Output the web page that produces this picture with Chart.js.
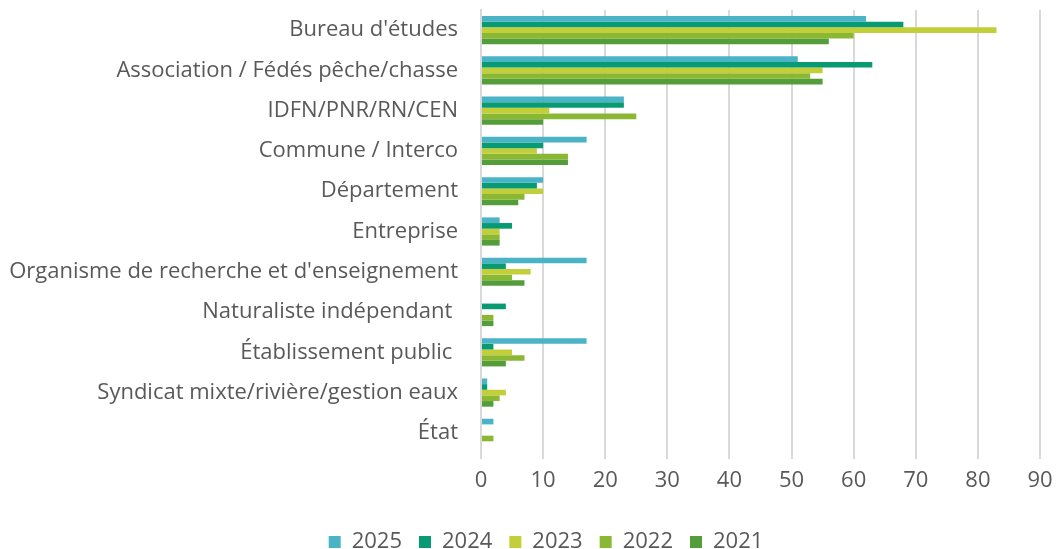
<!DOCTYPE html>
<html>
<head>
<meta charset="utf-8">
<script src="https://cdn.jsdelivr.net/npm/chart.js@4"></script>
<style>
  html, body { margin: 0; padding: 0; background: #fff; }
  #wrap { width: 1060px; height: 549px; }
</style>
</head>
<body>
<div id="wrap"><canvas id="orgChart"></canvas></div>
<script>
// Categories (y axis)
const categories = [
  "Bureau d'études",
  "Association / Fédés pêche/chasse",
  "IDFN/PNR/RN/CEN",
  "Commune / Interco",
  "Département",
  "Entreprise",
  "Organisme de recherche et d'enseignement",
  "Naturaliste indépendant ",
  "Établissement public ",
  "Syndicat mixte/rivière/gestion eaux",
  "État"
];

// Series values
const years = ["2025", "2024", "2023", "2022", "2021"];
const values2025 = [62, 51, 23, 17, 10, 3, 17, 0, 17, 1, 2];
const values2024 = [68, 63, 23, 10, 9, 5, 4, 4, 2, 1, 0];
const values2023 = [83, 55, 11, 9, 10, 3, 8, 0, 5, 4, 0];
const values2022 = [60, 53, 25, 14, 7, 3, 5, 2, 7, 3, 2];
const values2021 = [56, 55, 10, 14, 6, 3, 7, 2, 4, 2, 0];

const xTicks = [0, 10, 20, 30, 40, 50, 60, 70, 80, 90];

const colors = ["#4BB3C6", "#079A73", "#C3CF38", "#8BB834", "#539E3A"];
const allValues = [values2025, values2024, values2023, values2022, values2021];

const textColor = "#595959";
const fontFamily = "'Open Sans', sans-serif";
const fontSize = 22;

function createChart() {
  const ctx = document.getElementById('orgChart').getContext('2d');
  new Chart(ctx, {
    type: 'bar',
    data: {
      labels: categories,
      datasets: years.map((y, i) => ({
        label: y,
        data: allValues[i],
        backgroundColor: colors[i],
        borderWidth: 0,
        categoryPercentage: 0.7,
        barPercentage: 1.0
      }))
    },
    options: {
      indexAxis: 'y',
      responsive: true,
      maintainAspectRatio: false,
      animation: false,
      // negative right padding only recentres the bottom legend
      layout: { padding: { top: 10, right: -28, left: 4, bottom: -14 } },
      plugins: {
        tooltip: { enabled: false },
        legend: {
          position: 'bottom',
          labels: {
            color: textColor,
            font: { family: fontFamily, size: fontSize },
            boxWidth: 12,
            boxHeight: 12,
            padding: 17
          }
        }
      },
      scales: {
        x: {
          min: 0,
          max: 90,
          afterBuildTicks: (scale) => { scale.ticks = xTicks.map(v => ({ value: v })); },
          ticks: {
            color: textColor,
            font: { family: fontFamily, size: fontSize },
            padding: 9
          },
          grid: {
            color: "#D9D9D9",
            lineWidth: 2,
            tickLength: 6,
            drawTicks: true
          },
          border: { display: false },
          afterFit: (scale) => {
            scale.height = 61;
            scale.paddingRight = 20;
          }
        },
        y: {
          ticks: {
            color: textColor,
            font: { family: fontFamily, size: fontSize },
            padding: 15,
            autoSkip: false
          },
          grid: { display: false },
          border: { display: true, color: "#D9D9D9", width: 2 },
          afterFit: (scale) => {
            scale.width = 477;
            scale.paddingTop = 0;
            scale.paddingBottom = 0;
          }
        }
      }
    }
  });
}

window.onload = () => {
  createChart();
};
</script>
</body>
</html>
